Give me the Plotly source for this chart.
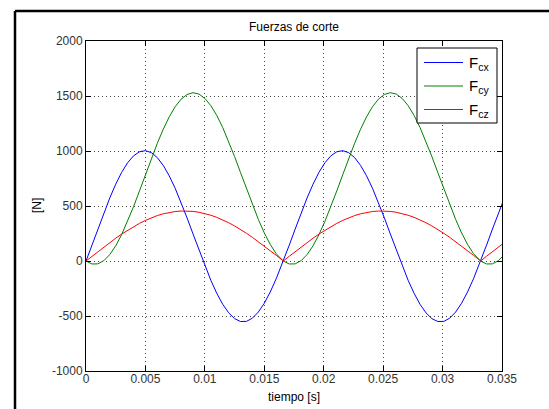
import plotly.graph_objects as go

# Sample times [s] (three tooth passes, the last one cut off by the axis limit)
tiempo = [
    0.0000, 0.0005, 0.0010, 0.0015, 0.0020, 0.0025, 0.0030, 0.0035, 0.0040, 0.0045,
    0.0050, 0.0055, 0.0060, 0.0065, 0.0070, 0.0075, 0.0080, 0.0085, 0.0090, 0.0095,
    0.0100, 0.0105, 0.0110, 0.0115, 0.0120, 0.0125, 0.0130, 0.0135, 0.0140, 0.0145,
    0.0150, 0.0155, 0.0160, 0.0165,
    0.0166, 0.0171, 0.0176, 0.0181, 0.0186, 0.0191, 0.0196, 0.0201, 0.0206, 0.0211,
    0.0216, 0.0221, 0.0226, 0.0231, 0.0236, 0.0241, 0.0246, 0.0251, 0.0256, 0.0261,
    0.0266, 0.0271, 0.0276, 0.0281, 0.0286, 0.0291, 0.0296, 0.0301, 0.0306, 0.0311,
    0.0316, 0.0321, 0.0326, 0.0331,
    0.0332, 0.0337, 0.0342, 0.0347, 0.0352,
]

# Cutting force components [N]
f_cx = [
    0, 144, 291, 436, 573, 698, 806, 893, 956, 993,
    1003, 985, 940, 869, 775, 662, 533, 393, 247, 100,
    -42, -175, -293, -393, -471, -524, -550, -549, -520, -464,
    -384, -282, -162, -28,
    0, 144, 291, 436, 573, 698, 806, 893, 956, 993,
    1003, 985, 940, 869, 775, 662, 533, 393, 247, 100,
    -42, -175, -293, -393, -471, -524, -550, -549, -520, -464,
    -384, -282, -162, -28,
    0, 144, 291, 436, 573,
]
f_cy = [
    0, -27, -26, 3, 58, 138, 240, 360, 494, 637,
    784, 930, 1070, 1198, 1310, 1402, 1471, 1514, 1530, 1518,
    1478, 1413, 1324, 1214, 1088, 950, 804, 657, 513, 378,
    255, 151, 67, 9,
    0, -27, -26, 3, 58, 138, 240, 360, 494, 637,
    784, 930, 1070, 1198, 1310, 1402, 1471, 1514, 1530, 1518,
    1478, 1413, 1324, 1214, 1088, 950, 804, 657, 513, 378,
    255, 151, 67, 9,
    0, -27, -26, 3, 58,
]
f_cz = [
    0, 43, 86, 127, 168, 207, 245, 280, 312, 342,
    369, 393, 413, 429, 441, 450, 454, 455, 451, 443,
    432, 416, 397, 374, 348, 319, 287, 252, 215, 176,
    136, 94, 52, 9,
    0, 43, 86, 127, 168, 207, 245, 280, 312, 342,
    369, 393, 413, 429, 441, 450, 454, 455, 451, 443,
    432, 416, 397, 374, 348, 319, 287, 252, 215, 176,
    136, 94, 52, 9,
    0, 43, 86, 127, 168,
]

x_ticks = [0, 0.005, 0.01, 0.015, 0.02, 0.025, 0.03, 0.035]
x_tick_labels = ["0", "0.005", "0.01", "0.015", "0.02", "0.025", "0.03", "0.035"]
y_ticks = [-1000, -500, 0, 500, 1000, 1500, 2000]
y_tick_labels = ["-1000", "-500", "0", "500", "1000", "1500", "2000"]

series = [
    ("F<sub>cx</sub>", f_cx, "#0000ff"),
    ("F<sub>cy</sub>", f_cy, "#008000"),
    ("F<sub>cz</sub>", f_cz, "#ff0000"),
]

FONT = "Liberation Sans, Arial, sans-serif"
TICK_COLOR = "#333333"

# Plot-area geometry in pixels, used to place the frame and the legend box
L, R, T, B = 86, 502, 41, 371
W, H = R - L, B - T


def px_x(px):
    return (px - L) / W


def px_y(py):
    return (B - py) / H


fig = go.Figure()
for name, values, color in series:
    fig.add_trace(go.Scatter(
        x=tiempo, y=values, mode="lines", name=name,
        line=dict(color=color, width=1), showlegend=False,
    ))

axis_common = dict(
    showline=True, linecolor="black", linewidth=1, mirror="ticks",
    ticks="inside", ticklen=5, tickcolor="black", tickwidth=1,
    showgrid=True, gridcolor="#444444", gridwidth=1, griddash="1px,3px",
    zeroline=False,
    tickfont=dict(family=FONT, size=12, color=TICK_COLOR),
)

fig.update_xaxes(range=[0, 0.035], tickvals=x_ticks, ticktext=x_tick_labels,
                 ticklabelstandoff=-3, **axis_common)
fig.update_yaxes(range=[-1000, 2000], tickvals=y_ticks, ticktext=y_tick_labels,
                 **axis_common)

# Window-style frame along the left and top edges
fig.add_shape(type="line", xref="paper", yref="paper",
              x0=px_x(15), x1=px_x(15), y0=px_y(11), y1=px_y(420),
              line=dict(color="black", width=2.5))
fig.add_shape(type="line", xref="paper", yref="paper",
              x0=px_x(15), x1=px_x(560), y0=px_y(11), y1=px_y(11),
              line=dict(color="black", width=2.5))

# Legend box with line samples and labels
fig.add_shape(type="rect", xref="paper", yref="paper",
              x0=px_x(417), x1=px_x(497), y0=px_y(123), y1=px_y(48),
              fillcolor="white", line=dict(color="black", width=1), layer="above")
legend_rows = [62.5, 86, 109.5]
for (name, _, color), row in zip(series, legend_rows):
    fig.add_shape(type="line", xref="paper", yref="paper",
                  x0=px_x(424), x1=px_x(463), y0=px_y(row), y1=px_y(row),
                  line=dict(color=color, width=1), layer="above")
    fig.add_annotation(text=name, xref="paper", yref="paper",
                       x=px_x(467), y=px_y(row + 0.5), xanchor="left", yanchor="middle",
                       showarrow=False,
                       font=dict(family=FONT, size=15, color="black"))

fig.add_annotation(text="tiempo [s]", xref="paper", yref="paper",
                   x=0.5, y=px_y(397), xanchor="center", yanchor="middle",
                   showarrow=False, font=dict(family=FONT, size=12, color="black"))
fig.add_annotation(text="[N]", xref="paper", yref="paper",
                   x=px_x(37), y=0.5, xanchor="center", yanchor="middle",
                   textangle=-90, showarrow=False,
                   font=dict(family=FONT, size=12, color="black"))

fig.update_layout(
    width=549, height=409,
    margin=dict(l=L, r=549 - R, t=T, b=409 - B),
    paper_bgcolor="white", plot_bgcolor="white",
    title=dict(text="Fuerzas de corte", x=294 / 549, xanchor="center",
               y=1 - 27 / 409, yanchor="middle",
               font=dict(family=FONT, size=12, color="black")),
    showlegend=False,
)

fig.write_html("out.html")
